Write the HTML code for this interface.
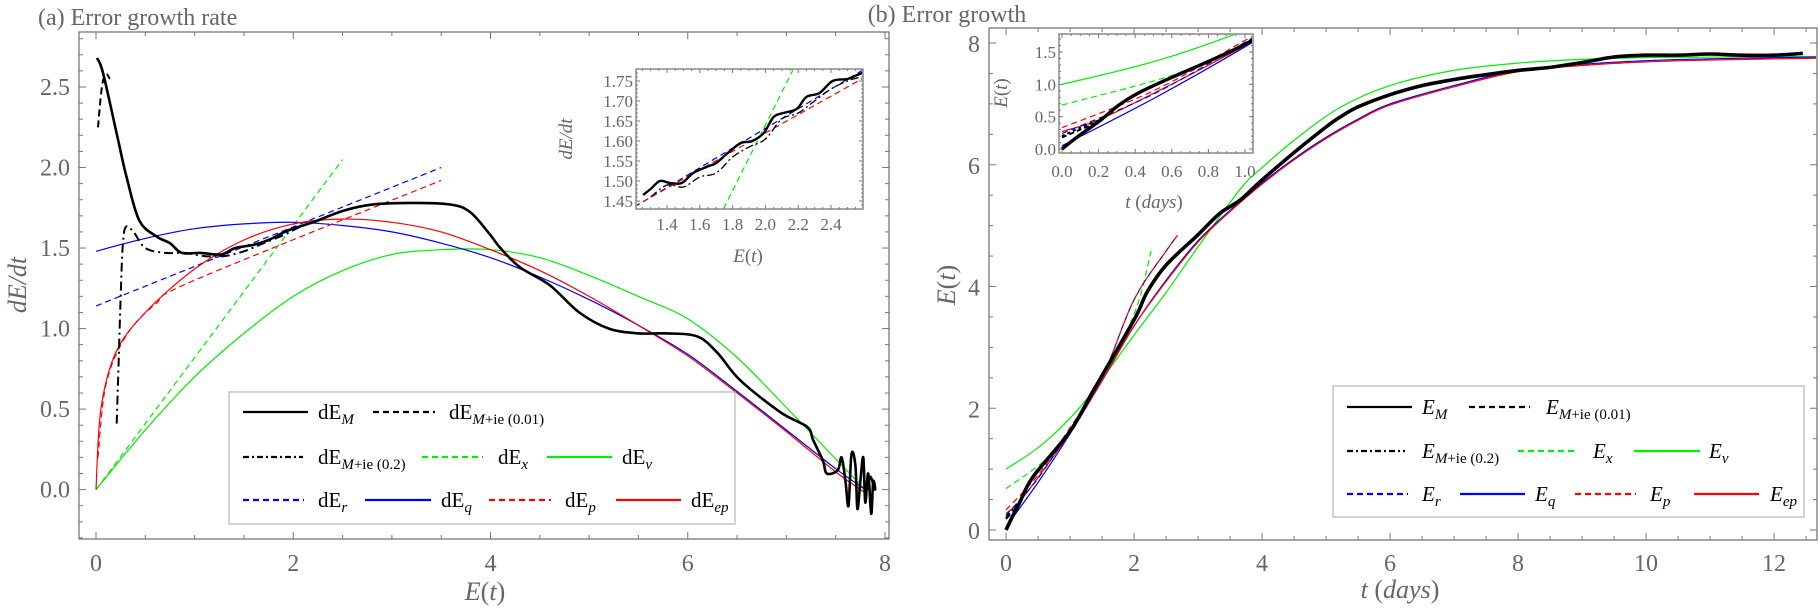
<!DOCTYPE html>
<html><head><meta charset="utf-8">
<style>
html,body{margin:0;padding:0;background:#fff;overflow:hidden;width:1820px;height:616px;}
svg{display:block;font-family:"Liberation Serif","DejaVu Serif",serif;}
.tk{fill:#666;font-size:24px;}
.itk{fill:#666;font-size:17px;}
.lg{fill:#000;font-size:20px;}
</style></head>
<body>
<svg id="fig" width="1820" height="616" viewBox="0 0 1820 616" xmlns="http://www.w3.org/2000/svg"></svg>
<script>
// ===== Panel (a): error growth rate, x = E, y = dE/dt =====
const aM_E   = [0.01,0.07,0.21,0.31,0.44,0.62,0.75,0.87,1.06,1.27,1.41,1.6,1.75,1.95,2.2,2.5,2.8,3.2,3.6,3.8,4.0,4.1,4.3,4.6,4.9,5.2,5.5,5.8,6.1,6.3,6.53,6.94,7.21,7.27,7.37,7.41,7.52,7.56,7.6,7.63,7.66,7.7,7.72,7.75,7.78,7.8,7.83,7.86,7.88,7.9,7.85,7.82];
const aM_V   = [2.68,2.59,2.21,1.94,1.67,1.57,1.53,1.47,1.47,1.46,1.5,1.52,1.55,1.61,1.66,1.73,1.77,1.78,1.77,1.72,1.58,1.5,1.38,1.27,1.1,1.0,0.97,0.97,0.95,0.85,0.68,0.48,0.39,0.31,0.18,0.1,0.12,0.2,0.05,-0.1,0.22,0.15,-0.12,0.05,0.2,-0.08,0.1,-0.15,0.05,0.0,0.08,0.0];
const aM01_E = [0.02,0.06,0.1,0.14];
const aM01_V = [2.25,2.5,2.58,2.55];
const aM02_E = [0.21,0.23,0.25,0.27,0.3,0.38,0.5,0.7,0.9,1.1,1.3,1.5,1.7,1.9,2.1,2.3];
const aM02_V = [0.41,0.8,1.2,1.5,1.63,1.6,1.5,1.47,1.47,1.45,1.45,1.48,1.53,1.58,1.64,1.68];
const aV_E   = [0,0.5,1,1.5,2,2.5,3,3.5,4,4.5,5,5.5,6,6.5,7,7.5,7.8];
const aV_V   = [0,0.37,0.7,0.97,1.2,1.36,1.46,1.49,1.49,1.44,1.33,1.2,1.06,0.82,0.51,0.19,0.0];
const aQ_E   = [0,0.5,1,1.5,2,2.5,3,3.5,4,4.5,5,5.5,6,6.5,7,7.5,7.8];
const aQ_V   = [1.48,1.56,1.62,1.65,1.66,1.64,1.6,1.53,1.44,1.32,1.18,1.02,0.84,0.61,0.37,0.13,0.0];
const aEP_E  = [0,0.05,0.2,0.5,1,1.5,2,2.5,3,3.5,4,4.5,5,5.5,6,6.5,7,7.5,7.8];
const aEP_V  = [0,0.5,0.85,1.1,1.37,1.55,1.65,1.68,1.66,1.6,1.49,1.36,1.2,1.02,0.83,0.6,0.36,0.11,-0.02];
const aR_E   = [0,3.5];
const aR_V   = [1.14,2.0];
const aP_E   = [0.02,0.1,0.3,0.6,1,3.5];
const aP_V   = [0.2,0.65,0.95,1.15,1.3,1.92];
const aX_E   = [0,2.5];
const aX_V   = [0,2.05];
const aXTicks = [0,2,4,6,8];
const aYTicks = [0,0.5,1.0,1.5,2.0,2.5];
// inset (a)
const iaM_E = [1.254,1.3,1.357,1.418,1.49,1.56,1.64,1.70,1.77,1.85,1.92,1.99,2.05,2.11,2.19,2.25,2.33,2.41,2.50,2.56,2.59];
const iaM_V = [1.465,1.48,1.50,1.495,1.495,1.52,1.535,1.545,1.57,1.595,1.60,1.62,1.66,1.67,1.68,1.71,1.72,1.75,1.755,1.765,1.77];
const iaD_E = [1.3,1.4,1.5,1.6,1.7,1.8,1.9,2.0,2.1,2.2,2.3,2.4,2.5,2.58];
const iaD_V = [1.46,1.49,1.485,1.51,1.52,1.56,1.585,1.605,1.655,1.67,1.7,1.73,1.75,1.76];
const iaXTicks = [1.4,1.6,1.8,2.0,2.2,2.4];
const iaYTicks = [1.45,1.50,1.55,1.60,1.65,1.70,1.75];

// ===== Panel (b): error growth, x = t (days), y = E =====
const bM_T  = [0,0.1,0.2,0.42,1,1.36,2,2.2,2.5,3,3.34,3.66,4,4.5,5,5.2,5.5,6,6.5,7,7.5,8,8.5,9,9.5,10,10.5,11,11.5,12,12.45];
const bM_E  = [0,0.22,0.42,0.87,1.62,2.28,3.45,3.9,4.35,4.85,5.2,5.42,5.75,6.2,6.62,6.77,6.95,7.15,7.3,7.4,7.48,7.55,7.6,7.68,7.77,7.8,7.8,7.82,7.8,7.8,7.83];
const bM01_T = [0,0.1,0.2];
const bM01_E = [0.18,0.3,0.42];
const bM02_T = [0,0.1,0.2];
const bM02_E = [0.2,0.33,0.44];
const bV_T  = [0,0.5,0.95,1.36,2,2.5,3,3.66,4,4.5,5.2,6,7,8,9,10,12.7];
const bV_E  = [1.0,1.35,1.78,2.28,3.2,3.9,4.65,5.6,5.95,6.4,6.93,7.3,7.55,7.67,7.73,7.76,7.78];
const bX_T  = [0,0.5,0.7,1,1.5,1.9,2.1,2.28];
const bX_E  = [0.68,1.05,1.25,1.62,2.5,3.3,3.85,4.65];
const bR_T  = [0,0.5,1,1.5,2,2.5,2.68];
const bR_E  = [0.24,0.85,1.65,2.5,3.78,4.58,4.84];
const bP_T  = [0,0.5,1,1.5,2,2.5,2.68];
const bP_E  = [0.33,0.9,1.68,2.5,3.78,4.58,4.84];
const bQ_T  = [0,0.5,1,1.5,2,2.5,3,3.5,4,4.5,5,5.5,6,7,8,9,10,11,12.7];
const bQ_E  = [0.05,0.78,1.58,2.45,3.35,4.1,4.75,5.25,5.7,6.1,6.45,6.75,7.0,7.3,7.55,7.65,7.71,7.74,7.77];
const bEP_T = [0,0.2,0.5,1,1.5,2,2.5,3,3.5,4,4.5,5,5.5,6,7,8,9,10,11,12.7];
const bEP_E = [0.27,0.45,0.86,1.6,2.45,3.35,4.08,4.73,5.23,5.68,6.08,6.43,6.73,6.98,7.28,7.53,7.63,7.69,7.72,7.75];
const bXTicks = [0,2,4,6,8,10,12];
const bYTicks = [0,2,4,6,8];
const ibXTicks = [0.0,0.2,0.4,0.6,0.8,1.0];
const ibYTicks = [0.0,0.5,1.0,1.5];

const NS = "http://www.w3.org/2000/svg";
const svg = document.getElementById('fig');
function mk(tag, attrs, parent){
  const e = document.createElementNS(NS, tag);
  for (const k in attrs) e.setAttribute(k, attrs[k]);
  (parent||svg).appendChild(e);
  return e;
}
function lin(d0,d1,r0,r1){ return v => r0 + (v-d0)*(r1-r0)/(d1-d0); }

const ax = lin(0,8,96,885),   ay = lin(0,2.5,489.6,87);
const iax = lin(1.4,2.4,667,831), iay = lin(1.45,1.75,201,81);
const bx = lin(0,12,1006,1774), by = lin(0,8,530,43);
const ibx = lin(0,1,1062,1245), iby = lin(0,1.5,149,52);

let clipN = 0;
function clip(x0,y0,x1,y1){
  const id = 'c'+(clipN++);
  const cp = mk('clipPath',{id:id});
  mk('rect',{x:x0,y:y0,width:x1-x0,height:y1-y0},cp);
  return 'url(#'+id+')';
}
function series(g, xs, ys, sx, sy, color, width, dash, name){
  const P = xs.map((x,i)=>[sx(x), sy(ys[i])]);
  let d = 'M'+P[0][0].toFixed(1)+','+P[0][1].toFixed(1);
  for (let i=0;i<P.length-1;i++){
    const p0 = P[Math.max(0,i-1)], p1 = P[i], p2 = P[i+1], p3 = P[Math.min(P.length-1,i+2)];
    const c1 = [p1[0]+(p2[0]-p0[0])/6, p1[1]+(p2[1]-p0[1])/6];
    const c2 = [p2[0]-(p3[0]-p1[0])/6, p2[1]-(p3[1]-p1[1])/6];
    d += 'C'+c1[0].toFixed(1)+','+c1[1].toFixed(1)+' '+c2[0].toFixed(1)+','+c2[1].toFixed(1)+' '+p2[0].toFixed(1)+','+p2[1].toFixed(1);
  }
  const p = mk('path',{d:d,fill:'none',stroke:color,'stroke-width':width,'stroke-linejoin':'round','stroke-linecap':'butt'},g);
  if (dash) p.setAttribute('stroke-dasharray', dash);
  
  
  return p;
}
function frame(x0,y0,x1,y1,name){
  const r = mk('rect',{x:x0,y:y0,width:x1-x0,height:y1-y0,fill:'#fff',stroke:'#777','stroke-width':1.3});
  
  
}
function ticks(x0,y0,x1,y1,sx,sy,xmin,xmax,xstep,xmajor,ymin,ymax,ystep,ymajor,Lmaj,Lmin,name){
  const g = mk('g',{stroke:'#777','stroke-width':1});
  
  
  const n = Math.round((xmax-xmin)/xstep);
  for (let i=0;i<=n;i++){
    const v = xmin + i*xstep; const X = sx(v);
    if (X < x0-0.5 || X > x1+0.5) continue;
    const L = (Math.abs(v/xmajor - Math.round(v/xmajor))<1e-6) ? Lmaj : Lmin;
    mk('line',{x1:X,y1:y1,x2:X,y2:y1-L},g);
    mk('line',{x1:X,y1:y0,x2:X,y2:y0+L},g);
  }
  const m = Math.round((ymax-ymin)/ystep);
  for (let i=0;i<=m;i++){
    const v = ymin + i*ystep; const Y = sy(v);
    if (Y < y0-0.5 || Y > y1+0.5) continue;
    const L = (Math.abs(v/ymajor - Math.round(v/ymajor))<1e-6) ? Lmaj : Lmin;
    mk('line',{x1:x0,y1:Y,x2:x0+L,y2:Y},g);
    mk('line',{x1:x1,y1:Y,x2:x1-L,y2:Y},g);
  }
}
function text(x,y,str,cls,anchor,name,extra){
  const t = mk('text',Object.assign({x:x,y:y,'class':cls,'text-anchor':anchor||'start'},extra||{}));
  t.textContent = str;
  
  
  return t;
}
function richText(x,y,parts,size,name,anchor,rot){
  const t = mk('text',{x:x,y:y,'font-size':size,fill:'#666'});
  if (anchor) t.setAttribute('text-anchor',anchor);
  if (rot) t.setAttribute('transform',rot);
  for (const p of parts){
    const s = mk('tspan',{},t);
    if (p[1]) s.setAttribute('font-style','italic');
    s.textContent = p[0];
  }
  
  
  return t;
}

// ---------------- Panel (a) ----------------
text(38,25,'(a) Error growth rate','tk','start','panel-a-title',{'font-size':'24'});
frame(79,32,889,539,'panel-a-frame');
ticks(79,32,889,539,ax,ay,-0.5,8.5,0.5,2,-0.3,2.8,0.1,0.5,7,4,'panel-a-ticks');
aXTicks.forEach(v=>text(ax(v),571,String(v),'tk','middle','x-tick-label'));
aYTicks.forEach(v=>text(70,ay(v)+8,v.toFixed(1),'tk','end','y-tick-label'));
richText(485,600,[['E',1],['(',0],['t',1],[')',0]],26,'x-axis-title-a','middle');
richText(26,285,[['dE/dt',1]],26,'y-axis-title-a','middle','rotate(-90 26 285)');

const ga = mk('g',{'clip-path':clip(80,33,888,538)});


series(ga,aV_E,aV_V,ax,ay,'#00ee00',1.2,null,'series-dE-v');
series(ga,aX_E,aX_V,ax,ay,'#00ee00',1.2,'6,4','series-dE-x');
series(ga,aQ_E,aQ_V,ax,ay,'#0000ff',1.2,null,'series-dE-q');
series(ga,aR_E,aR_V,ax,ay,'#0000ff',1.2,'6,4','series-dE-r');
series(ga,aEP_E,aEP_V,ax,ay,'#ff0000',1.2,null,'series-dE-ep');
series(ga,aP_E,aP_V,ax,ay,'#ff0000',1.2,'6,4','series-dE-p');
series(ga,aM02_E,aM02_V,ax,ay,'#000',2,'9,4,2,4','series-dE-M-ie-0.2');
series(ga,aM01_E,aM01_V,ax,ay,'#000',2,'7,4','series-dE-M-ie-0.01');
series(ga,aM_E,aM_V,ax,ay,'#000',2.6,null,'series-dE-M');

// inset (a)
frame(636,69,863,209,'inset-a-frame');
ticks(636,69,863,209,iax,iay,1.2,2.6,0.05,0.2,1.43,1.78,0.01,0.05,4,2,'inset-a-ticks');
iaXTicks.forEach(v=>text(iax(v),230,v.toFixed(1),'itk','middle','inset-a-x-tick-label'));
iaYTicks.forEach(v=>text(633,iay(v)+6,v.toFixed(2),'itk','end','inset-a-y-tick-label'));
richText(748,262,[['E',1],['(',0],['t',1],[')',0]],19,'inset-a-x-title','middle');
richText(572,139,[['dE/dt',1]],19,'inset-a-y-title','middle','rotate(-90 572 139)');
const gia = mk('g',{'clip-path':clip(637,70,862,208)});


series(gia,aX_E,aX_V,iax,iay,'#00ee00',1.2,'6,4','inset-dE-x');
series(gia,aR_E,aR_V,iax,iay,'#0000ff',1.2,'6,4','inset-dE-r');
series(gia,[1.2,2.6],[1.436,1.758],iax,iay,'#ff0000',1.2,'6,4','inset-dE-p');
series(gia,iaD_E,iaD_V,iax,iay,'#000',1.3,'8,3,2,3','inset-dE-M-ie');
series(gia,iaM_E,iaM_V,iax,iay,'#000',2.4,null,'inset-dE-M');

function legend(x0,y0,x1,y1,rows,name,prefix,ital){
  const g = mk('g',{});
  
  
  mk('rect',{x:x0,y:y0,width:x1-x0,height:y1-y0,fill:'#fff',stroke:'#bbb','stroke-width':1.3},g);
  rows.forEach(it=>{
    const [lx0,lx1,tx,y,color,dash,sub,w] = it;
    const ln = mk('line',{x1:lx0,y1:y,x2:lx1,y2:y,stroke:color,'stroke-width':w||2.2},g);
    if (dash) ln.setAttribute('stroke-dasharray',dash);
    
    
    const t = mk('text',{x:tx,y:y+7,'font-size':21,fill:'#000'},g);
    const a = mk('tspan',{},t);
    if (ital) { a.setAttribute('font-style','italic'); a.textContent = 'E'; }
    else a.textContent = 'dE';
    const s = mk('tspan',{'font-size':15,dy:5},t);
    if (sub.indexOf('+ie')>=0){
      const s1 = mk('tspan',{'font-style':'italic'},s); s1.textContent='M';
      const s2 = mk('tspan',{},s); s2.textContent = sub.substring(1);
    } else { s.setAttribute('font-style','italic'); s.textContent = sub; }
    
    
  });
}
legend(229,392,735,524,[
 [243,308,318,412,'#000',null,'M'],
 [373,435,449,412,'#000','6,4','M+ie (0.01)'],
 [243,303,318,457,'#000','6,3,2,3','M+ie (0.2)'],
 [422,483,498,457,'#00ee00','6,4','x'],
 [547,612,622,457,'#00ee00',null,'v'],
 [243,304,318,500,'#0000ff','6,4','r'],
 [365,431,441,500,'#0000ff',null,'q'],
 [489,551,565,500,'#ff0000','6,4','p'],
 [616,681,691,500,'#ff0000',null,'ep']
],'legend-a','dE',false);

// ---------------- Panel (b) ----------------
text(947,22,'(b) Error growth','tk','middle','panel-b-title',{'font-size':'24'});
frame(989,28,1817,540,'panel-b-frame');
ticks(989,28,1817,540,bx,by,-0.5,13,0.5,2,-0.5,8.5,0.5,2,7,4,'panel-b-ticks');
bXTicks.forEach(v=>text(bx(v),571,String(v),'tk','middle','x-tick-label'));
bYTicks.forEach(v=>text(980,by(v)+9,String(v),'tk','end','y-tick-label'));
richText(1400,598,[['t',1],[' (',0],['days',1],[')',0]],26,'x-axis-title-b','middle');
richText(955,285,[['E',1],['(',0],['t',1],[')',0]],26,'y-axis-title-b','middle','rotate(-90 955 285)');

const gb = mk('g',{'clip-path':clip(990,29,1816,539)});


series(gb,bV_T,bV_E,bx,by,'#00ee00',1.2,null,'series-E-v');
series(gb,bX_T,bX_E,bx,by,'#00ee00',1.2,'6,4','series-E-x');
series(gb,bQ_T,bQ_E,bx,by,'#0000ff',1.2,null,'series-E-q');
series(gb,bEP_T,bEP_E,bx,by,'#ff0000',1.2,null,'series-E-ep');
series(gb,bR_T,bR_E,bx,by,'#0000ff',1.2,'6,4','series-E-r');
series(gb,bP_T,bP_E,bx,by,'#ff0000',1.2,'6,4','series-E-p');
series(gb,bM02_T,bM02_E,bx,by,'#000',2,'6,3,2,3','series-E-M-ie-0.2');
series(gb,bM01_T,bM01_E,bx,by,'#000',2,'6,4','series-E-M-ie-0.01');
series(gb,bM_T,bM_E,bx,by,'#000',3.6,null,'series-E-M');

// inset (b)
frame(1059,34,1253,153,'inset-b-frame');
ticks(1059,34,1253,153,ibx,iby,0,1.05,0.05,0.2,0,1.8,0.1,0.5,4,2,'inset-b-ticks');
ibXTicks.forEach(v=>text(ibx(v),177,v.toFixed(1),'itk','middle','inset-b-x-tick-label'));
ibYTicks.forEach(v=>text(1056,iby(v)+6,v.toFixed(1),'itk','end','inset-b-y-tick-label'));
richText(1154,208,[['t',1],[' (',0],['days',1],[')',0]],19,'inset-b-x-title','middle');
richText(1007,93,[['E',1],['(',0],['t',1],[')',0]],19,'inset-b-y-title','middle','rotate(-90 1007 93)');
const gib = mk('g',{'clip-path':clip(1060,35,1252,152)});


series(gib,bV_T,bV_E,ibx,iby,'#00ee00',1.2,null,'inset-E-v');
series(gib,bX_T,bX_E,ibx,iby,'#00ee00',1.2,'6,4','inset-E-x');
series(gib,bQ_T,bQ_E,ibx,iby,'#0000ff',1.2,null,'inset-E-q');
series(gib,bEP_T,bEP_E,ibx,iby,'#ff0000',1.2,null,'inset-E-ep');
series(gib,bR_T,bR_E,ibx,iby,'#0000ff',1.2,'6,4','inset-E-r');
series(gib,bP_T,bP_E,ibx,iby,'#ff0000',1.2,'6,4','inset-E-p');
series(gib,bM02_T,bM02_E,ibx,iby,'#000',2,'3,3','inset-E-M-ie-0.2');
series(gib,bM01_T,bM01_E,ibx,iby,'#000',2,'5,3','inset-E-M-ie-0.01');
series(gib,bM_T,bM_E,ibx,iby,'#000',3.4,null,'inset-E-M');

legend(1333,386,1804,517,[
 [1347,1412,1422,407,'#000',null,'M'],
 [1469,1530,1546,407,'#000','6,4','M+ie (0.01)'],
 [1347,1405,1422,451,'#000','6,3,2,3','M+ie (0.2)'],
 [1518,1578,1593,451,'#00ee00','6,4','x'],
 [1634,1700,1709,451,'#00ee00',null,'v'],
 [1347,1408,1422,494,'#0000ff','6,4','r'],
 [1460,1525,1535,494,'#0000ff',null,'q'],
 [1575,1636,1650,494,'#ff0000','6,4','p'],
 [1694,1759,1770,494,'#ff0000',null,'ep']
],'legend-b','E',true);
</script>
</body></html>
